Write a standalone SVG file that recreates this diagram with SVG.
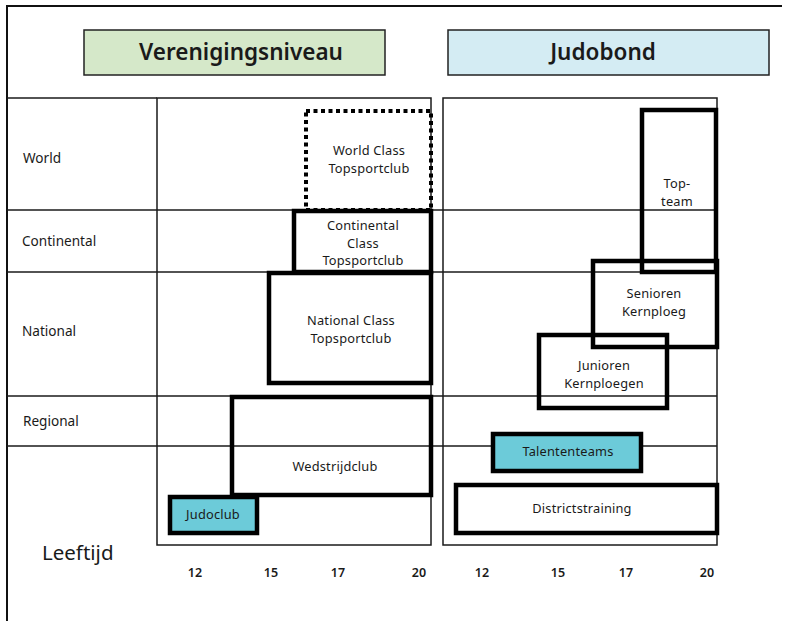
<svg xmlns="http://www.w3.org/2000/svg" width="790" height="621" viewBox="0 0 790 621">
  <style>
    text { font-family: "Noto Sans", "Open Sans", "DejaVu Sans", sans-serif; fill: #1a1a1a; }
    .hdr { font-size: 22.5px; font-weight: 600; text-anchor: middle; }
    .lvl { font-size: 13.6px; }
    .lbl { font-size: 12.8px; text-anchor: middle; letter-spacing: 0.2px; }
    .tick { font-size: 12.5px; font-weight: 600; text-anchor: middle; }
    .grid { stroke: #1a1a1a; stroke-width: 1.5; fill: none; }
    .box { fill: none; stroke: #000; stroke-width: 4.5; }
    .fillbox { fill: #6ccbd9; stroke: #000; stroke-width: 4.5; }
    .dotted { fill: none; stroke: #000; stroke-width: 4; stroke-dasharray: 4 3.5; }
  </style>

  <rect width="790" height="621" fill="#fff"/>

  <!-- outer frame (top and left) -->
  <g id="frame" fill="none" stroke="#111" stroke-width="2">
    <line x1="7" y1="6" x2="782" y2="6"/>
    <line x1="7" y1="5" x2="7" y2="621"/>
  </g>

  <!-- headers -->
  <g id="hdr-vereniging">
    <rect x="84" y="30" width="301" height="45" fill="#d5e8c9" stroke="#222" stroke-width="1.5"/>
    <text class="hdr" x="241" y="60">Verenigingsniveau</text>
  </g>
  <g id="hdr-judobond">
    <rect x="448" y="30" width="321" height="45" fill="#d4ecf3" stroke="#222" stroke-width="1.5"/>
    <text class="hdr" x="603" y="60">Judobond</text>
  </g>

  <!-- grid: level rows and two panels -->
  <g id="grid" class="grid">
    <line x1="7" y1="98" x2="157" y2="98"/>
    <line x1="7" y1="210" x2="717" y2="210"/>
    <line x1="7" y1="272" x2="717" y2="272"/>
    <line x1="7" y1="396" x2="717" y2="396"/>
    <line x1="7" y1="446" x2="717" y2="446"/>
    <rect x="157" y="98" width="274" height="447"/>
    <rect x="443" y="98" width="274" height="447"/>
  </g>

  <!-- level labels -->
  <g id="levels">
    <text class="lvl" x="23" y="163">World</text>
    <text class="lvl" x="22" y="246">Continental</text>
    <text class="lvl" x="22" y="336">National</text>
    <text class="lvl" x="23" y="426">Regional</text>
  </g>

  <!-- club-level nodes -->
  <g id="world-class">
    <rect class="dotted" x="306" y="111" width="125" height="99"/>
    <text class="lbl" x="369" y="155">World Class</text>
    <text class="lbl" x="369" y="172.5">Topsportclub</text>
  </g>
  <g id="continental-class">
    <rect class="box" x="294" y="211" width="137" height="61"/>
    <text class="lbl" x="363" y="230">Continental</text>
    <text class="lbl" x="363" y="247.5">Class</text>
    <text class="lbl" x="363" y="265">Topsportclub</text>
  </g>
  <g id="national-class">
    <rect class="box" x="269" y="273" width="162" height="110"/>
    <text class="lbl" x="351" y="325">National Class</text>
    <text class="lbl" x="351" y="342.5">Topsportclub</text>
  </g>
  <g id="wedstrijdclub">
    <rect class="box" x="232" y="397" width="199" height="98"/>
    <text class="lbl" x="335" y="471">Wedstrijdclub</text>
  </g>
  <g id="judoclub">
    <rect class="fillbox" x="170" y="497" width="87" height="36"/>
    <text class="lbl" x="213" y="519">Judoclub</text>
  </g>

  <!-- federation nodes -->
  <g id="topteam">
    <rect class="box" x="642" y="110" width="74" height="162"/>
    <text class="lbl" x="677" y="188">Top-</text>
    <text class="lbl" x="677" y="205.5">team</text>
  </g>
  <g id="senioren">
    <rect class="box" x="593" y="261" width="124" height="86"/>
    <text class="lbl" x="654" y="298">Senioren</text>
    <text class="lbl" x="654" y="315.5">Kernploeg</text>
  </g>
  <g id="junioren">
    <rect class="box" x="539" y="335" width="128" height="73"/>
    <text class="lbl" x="604" y="370">Junioren</text>
    <text class="lbl" x="604" y="387.5">Kernploegen</text>
  </g>
  <g id="talententeams">
    <rect class="fillbox" x="493" y="434" width="148" height="37"/>
    <text class="lbl" x="568" y="456">Talententeams</text>
  </g>
  <g id="districtstraining">
    <rect class="box" x="456" y="485" width="261" height="48"/>
    <text class="lbl" x="582" y="513">Districtstraining</text>
  </g>

  <!-- connectors: none drawn -->
  <g id="connectors"/>

  <!-- age axis -->
  <g id="axis">
    <text x="42" y="560" font-size="20.5">Leeftijd</text>
    <text class="tick" x="195" y="577">12</text>
    <text class="tick" x="271" y="577">15</text>
    <text class="tick" x="338" y="577">17</text>
    <text class="tick" x="419" y="577">20</text>
    <text class="tick" x="482" y="577">12</text>
    <text class="tick" x="558" y="577">15</text>
    <text class="tick" x="626" y="577">17</text>
    <text class="tick" x="707" y="577">20</text>
  </g>
</svg>
